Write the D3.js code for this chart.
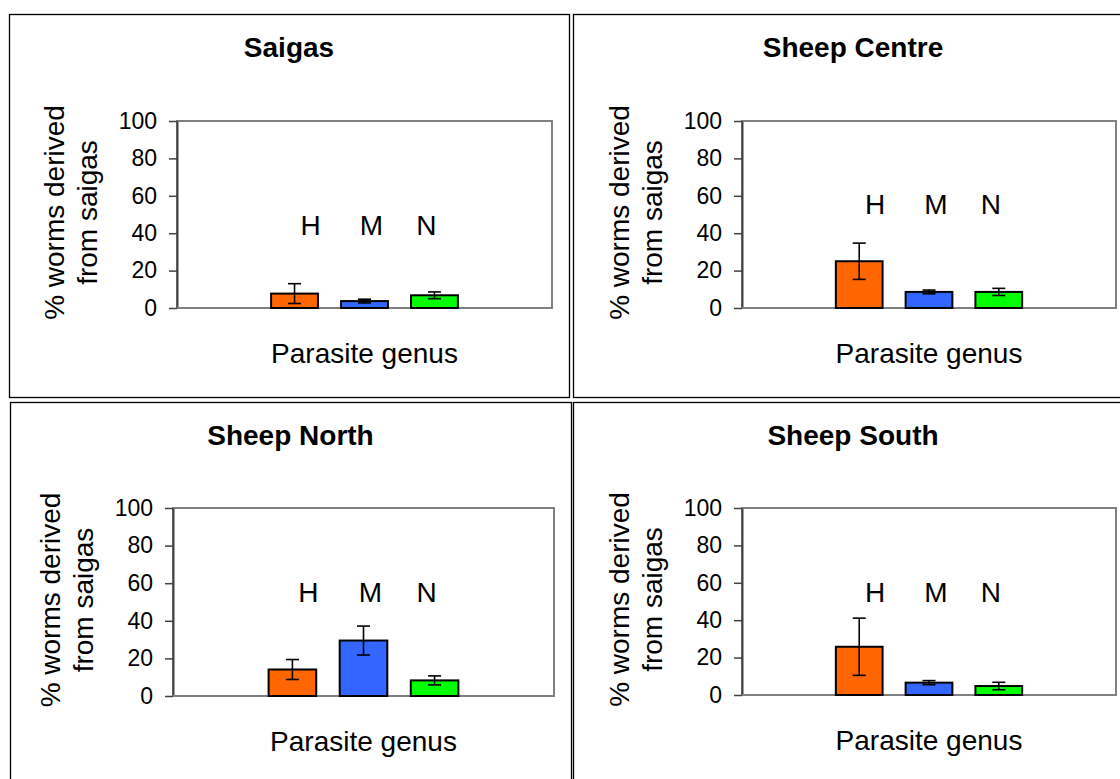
<!DOCTYPE html>
<html><head><meta charset="utf-8">
<script src="https://cdn.jsdelivr.net/npm/d3@7"></script>
<style>
body{margin:0;background:#fff;}
svg{display:block;font-family:"Liberation Sans",Arial,Helvetica,sans-serif;}
</style>
</head><body>
<svg id="chart" width="1120" height="779"></svg>
<script>
// ---- data ----
const panelTitles = ["Saigas", "Sheep Centre", "Sheep North", "Sheep South"];
const genera = ["H", "M", "N"];
const genusColors = ["#FF6600", "#3366FF", "#00FF00"];
const valuesSaigas = [7.7, 3.7, 6.8];
const errorsSaigas = [5.3, 1.0, 1.8];
const valuesCentre = [25.0, 8.6, 8.6];
const errorsCentre = [9.7, 1.0, 1.9];
const valuesNorth = [14.1, 29.5, 8.3];
const errorsNorth = [5.3, 7.7, 2.4];
const valuesSouth = [25.8, 6.6, 4.8];
const errorsSouth = [15.3, 1.1, 2.0];
const yTicks = [0, 20, 40, 60, 80, 100];
const genusLabelLevels = [39, 50.5, 50, 49.5];
const yTitleLines = ["% worms derived", "from saigas"];
const xTitle = "Parasite genus";

const panelValues = [valuesSaigas, valuesCentre, valuesNorth, valuesSouth];
const panelErrors = [errorsSaigas, errorsCentre, errorsNorth, errorsSouth];

// ---- layout ----
const layout = [
  {x: 9,   y: 14,  w: 560, h: 383, pl: 177, pt: 121, pr: 552, pb: 308},
  {x: 573, y: 14,  w: 560, h: 383, pl: 742, pt: 121, pr: 1116, pb: 308},
  {x: 10,  y: 402, w: 561, h: 390, pl: 173, pt: 508, pr: 554, pb: 696},
  {x: 573, y: 402, w: 560, h: 390, pl: 742, pt: 508, pr: 1116, pb: 695}
];
const labelShift = [16, 7, -8];

const svg = d3.select("#chart");
svg.append("rect").attr("width", 1120).attr("height", 779).attr("fill", "#fff");

panelTitles.forEach((title, i) => {
  const L = layout[i];
  const g = svg.append("g");
  // panel frame
  g.append("rect")
    .attr("x", L.x + 0.5).attr("y", L.y + 0.5)
    .attr("width", L.w).attr("height", L.h)
    .attr("fill", "#fff").attr("stroke", "#000").attr("stroke-width", 1.3);

  const y = d3.scaleLinear().domain([0, 100]).range([L.pb, L.pt]);
  const x = d3.scaleBand().domain(genera).range([L.pl, L.pr])
    .paddingInner(0.33).paddingOuter(1.345);

  // plot area
  g.append("rect")
    .attr("x", L.pl).attr("y", L.pt)
    .attr("width", L.pr - L.pl).attr("height", L.pb - L.pt)
    .attr("fill", "#fff").attr("stroke", "#808080").attr("stroke-width", 2);

  // title
  g.append("text")
    .attr("x", L.x + L.w / 2).attr("y", L.y + 43)
    .attr("text-anchor", "middle")
    .attr("font-size", 28).attr("font-weight", "bold").attr("fill", "#000")
    .text(title);

  // y axis
  const ax = g.append("g")
    .attr("transform", `translate(${L.pl},0)`)
    .call(d3.axisLeft(y).tickValues(yTicks).tickSize(8).tickPadding(12).tickSizeOuter(0));
  ax.select(".domain").attr("stroke", "#404040").attr("stroke-width", 2);
  ax.selectAll(".tick line").attr("stroke", "#404040").attr("stroke-width", 1.5);
  ax.selectAll(".tick text").attr("font-size", 23).attr("fill", "#000")
    .attr("font-family", "Liberation Sans, Arial, sans-serif");

  // x baseline
  g.append("line")
    .attr("x1", L.pl).attr("x2", L.pr)
    .attr("y1", y(0)).attr("y2", y(0))
    .attr("stroke", "#808080").attr("stroke-width", 2);

  const vals = panelValues[i], errs = panelErrors[i];
  // bars
  g.selectAll("rect.bar").data(genera).enter().append("rect")
    .attr("class", "bar")
    .attr("x", d => x(d)).attr("width", x.bandwidth())
    .attr("y", (d, j) => y(vals[j]))
    .attr("height", (d, j) => y(0) - y(vals[j]))
    .attr("fill", (d, j) => genusColors[j])
    .attr("stroke", "#000").attr("stroke-width", 2);

  // error bars
  const cap = 6.5;
  genera.forEach((d, j) => {
    const cx = x(d) + x.bandwidth() / 2;
    const hi = y(vals[j] + errs[j]), lo = y(Math.max(0, vals[j] - errs[j]));
    const eg = g.append("g").attr("stroke", "#000").attr("stroke-width", 1.6);
    eg.append("line").attr("x1", cx).attr("x2", cx).attr("y1", hi).attr("y2", lo);
    eg.append("line").attr("x1", cx - cap).attr("x2", cx + cap).attr("y1", hi).attr("y2", hi);
    eg.append("line").attr("x1", cx - cap).attr("x2", cx + cap).attr("y1", lo).attr("y2", lo);
  });

  // genus letters
  g.selectAll("text.genus").data(genera).enter().append("text")
    .attr("class", "genus")
    .attr("x", (d, j) => x(d) + x.bandwidth() / 2 + labelShift[j])
    .attr("y", y(genusLabelLevels[i]))
    .attr("text-anchor", "middle")
    .attr("font-size", 28).attr("fill", "#000")
    .text(d => d);

  // y title
  const cy = (L.pt + L.pb) / 2 - 2;
  yTitleLines.forEach((t, k) => {
    const bx = L.pl - 113 + k * 33;
    g.append("text")
      .attr("transform", `translate(${bx},${cy}) rotate(-90)`)
      .attr("text-anchor", "middle")
      .attr("font-size", 28).attr("fill", "#000")
      .text(t);
  });

  // x title
  g.append("text")
    .attr("x", (L.pl + L.pr) / 2).attr("y", L.pb + 55)
    .attr("text-anchor", "middle")
    .attr("font-size", 28).attr("fill", "#000")
    .text(xTitle);
});
</script>
</body></html>
